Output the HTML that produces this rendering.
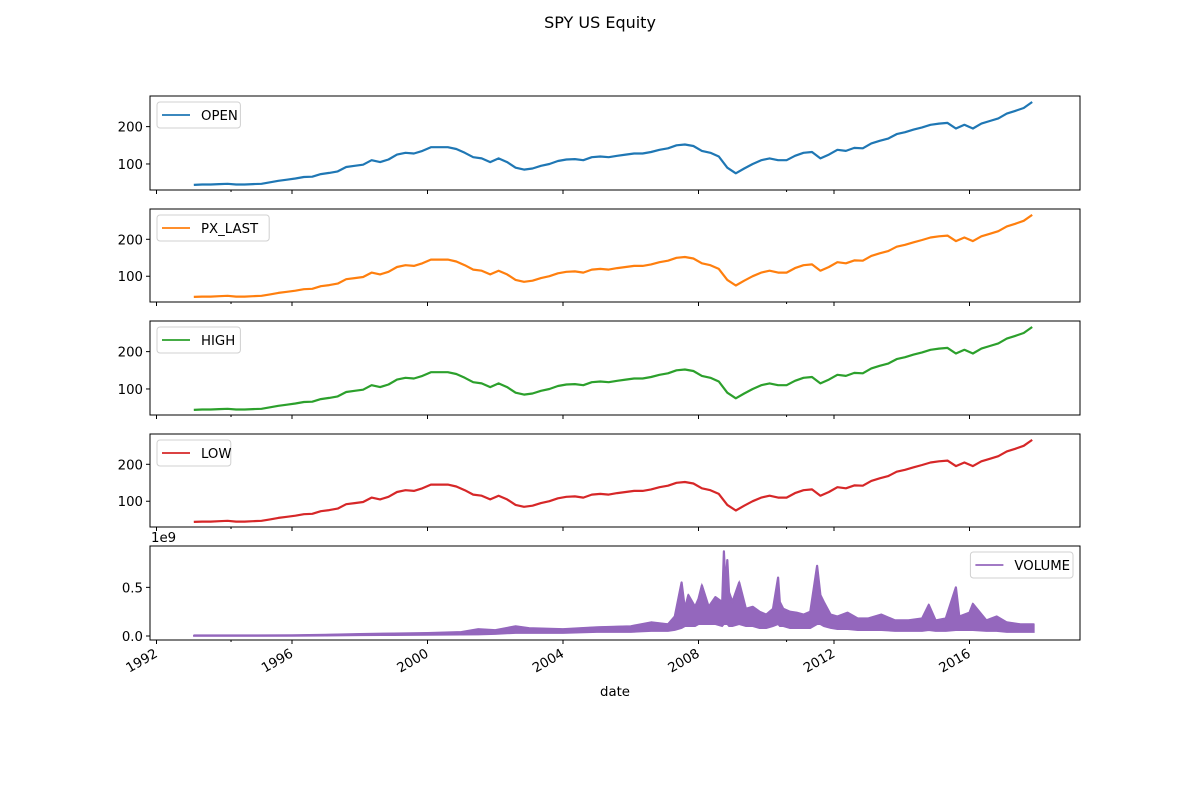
<!DOCTYPE html>
<html><head><meta charset="utf-8"><style>
body{margin:0;background:#fff;}
svg{font-family:"DejaVu Sans","Liberation Sans",sans-serif;}
</style></head><body>
<svg id="chart" width="1200" height="800" viewBox="0 0 1200 800" xmlns="http://www.w3.org/2000/svg">
<rect width="1200" height="800" fill="#fff"/>
<text x="600" y="28" text-anchor="middle" font-size="16">SPY US Equity</text>
<text x="615" y="696" text-anchor="middle" font-size="13.3">date</text>
</svg>
<script>
const priceDates = [];
for (let y = 1993; y <= 2017; y++) for (let q = 0; q < 4; q++) priceDates.push(y + 0.1 + q * 0.25);
const priceValues = [
44,45,45,46, 47,45,45,46, 47,51,55,58, 61,65,66,73, 76,80,92,95,
98,110,105,112, 125,130,128,135, 145,145,145,140, 130,118,115,105,
115,105,90,85, 88,95,100,108, 112,113,110,118, 120,118,122,125,
128,128,132,138, 142,150,152,148, 135,130,120,90, 75,88,100,110,
115,110,110,122, 130,132,115,125, 138,135,143,142, 155,162,168,180,
185,192,198,205, 208,210,195,205, 195,208,215,222, 235,242,250,266];
const seriesNames = ["OPEN","PX_LAST","HIGH","LOW"];
const seriesColors = ["#1f77b4","#ff7f0e","#2ca02c","#d62728"];
const volumeDates = [1993.1,1994,1995,1996,1997,1998,1999,2000,2001,2001.5,2002,2002.6,2003,2004,2005,2006,2006.6,2007.1,2007.3,2007.5,2007.6,2007.7,2007.9,2008.0,2008.1,2008.3,2008.5,2008.7,2008.75,2008.8,2008.85,2008.9,2009.0,2009.2,2009.4,2009.6,2009.8,2010.0,2010.2,2010.35,2010.4,2010.5,2010.7,2010.9,2011.1,2011.3,2011.5,2011.6,2011.7,2011.9,2012.1,2012.4,2012.7,2013,2013.4,2013.8,2014.2,2014.6,2014.8,2015,2015.3,2015.6,2015.7,2016,2016.1,2016.5,2016.8,2017.1,2017.5,2017.9];
const volumeValues = [0.005,0.005,0.005,0.006,0.012,0.02,0.025,0.03,0.04,0.07,0.06,0.1,0.08,0.07,0.09,0.1,0.14,0.12,0.2,0.55,0.28,0.42,0.3,0.38,0.52,0.3,0.4,0.35,0.87,0.5,0.78,0.45,0.35,0.55,0.28,0.3,0.25,0.22,0.28,0.6,0.35,0.28,0.25,0.24,0.22,0.25,0.72,0.42,0.35,0.22,0.2,0.24,0.18,0.18,0.22,0.16,0.16,0.18,0.32,0.16,0.18,0.5,0.2,0.24,0.33,0.16,0.2,0.14,0.12,0.12];
const volumeFloor = [0.0,0.0,0.0,0.0,0.003,0.006,0.008,0.01,0.012,0.015,0.02,0.03,0.03,0.03,0.04,0.04,0.05,0.05,0.06,0.08,0.1,0.1,0.1,0.12,0.12,0.12,0.12,0.1,0.12,0.12,0.12,0.1,0.1,0.12,0.1,0.1,0.08,0.08,0.1,0.12,0.1,0.1,0.08,0.08,0.08,0.08,0.12,0.12,0.1,0.08,0.07,0.07,0.06,0.06,0.06,0.05,0.05,0.05,0.06,0.05,0.05,0.06,0.06,0.06,0.06,0.05,0.05,0.04,0.04,0.04];
const yearTicks = [1992,1996,2000,2004,2008,2012,2016];
const minorTicks = [1994.2,2010.6];
const priceTicks = [100,200];
const volTicks = [0,0.5];
const volTickLabels = ["0.0","0.5"];

const svg = document.getElementById('chart');
const NS = "http://www.w3.org/2000/svg";
const L = 150, R = 1080;
const panels = [[96,190],[209,302],[321,415],[434,527],[546,640]];
function xs(t){ return 156.5 + (t - 1992) * 33.875; }
function mk(tag, attrs){ const e = document.createElementNS(NS, tag); for (const k in attrs) e.setAttribute(k, attrs[k]); svg.appendChild(e); return e; }
function panelY(top, bot, lo, hi){ return v => bot - (v - lo) / (hi - lo) * (bot - top); }

panels.forEach((p, i) => {
  const [top, bot] = p;
  const isVol = i === 4;
  const ys = isVol ? panelY(top, bot, -0.041, 0.925) : panelY(top, bot, 30.3, 282);
  const dates = isVol ? volumeDates : priceDates;
  const vals = isVol ? volumeValues : priceValues;
  if (isVol) {
    let a = "";
    dates.forEach((t, k) => { a += (k ? "L" : "M") + xs(t).toFixed(1) + "," + ys(vals[k]).toFixed(1); });
    for (let k = dates.length - 1; k >= 0; k--) a += "L" + xs(dates[k]).toFixed(1) + "," + ys(volumeFloor[k]).toFixed(1);
    const band = mk('path', {d: a + "Z", fill: "#9467bd", stroke: "#9467bd", "stroke-width": 1.5});
    
    
  }
  let d = "";
  dates.forEach((t, k) => { d += (k ? "L" : "M") + xs(t).toFixed(1) + "," + ys(vals[k]).toFixed(1); });
  const line = mk('path', {d: d, fill: "none", stroke: isVol ? "#9467bd" : seriesColors[i], "stroke-width": 2.2, "stroke-linejoin": "round"});
  
  
  const frame = mk('rect', {x: L, y: top, width: R - L, height: bot - top, fill: "none", stroke: "#000", "stroke-width": 1});
  
  
  const ticks = isVol ? volTicks : priceTicks;
  ticks.forEach((v, k) => {
    const y = ys(v);
    const tk = mk('line', {x1: L - 4, x2: L, y1: y, y2: y, stroke: "#000"});
    
    
    const tl = mk('text', {x: L - 7, y: y + 5, "text-anchor": "end", "font-size": 13.3});
    tl.textContent = isVol ? volTickLabels[k] : String(v);
    
    
  });
  yearTicks.forEach(t => {
    const x = xs(t);
    const tk = mk('line', {x1: x, x2: x, y1: bot, y2: bot + 4, stroke: "#000"});
    
    
  });
  minorTicks.forEach(t => {
    const x = xs(t);
    const tk = mk('line', {x1: x, x2: x, y1: bot, y2: bot + 2, stroke: "#000"});
    
    
  });
  const name = isVol ? "VOLUME" : seriesNames[i];
  const col = isVol ? "#9467bd" : seriesColors[i];
  const lw = name.length * 9.6 + 45;
  const lx = isVol ? R - 7 - lw : L + 7;
  const ly = top + 6;
  const g = document.createElementNS(NS, 'g');
  
  
  svg.appendChild(g);
  const box = document.createElementNS(NS, 'rect');
  [["x",lx],["y",ly],["width",lw],["height",26],["rx",3],["fill","#fff"],["fill-opacity","0.8"],["stroke","#d0d0d0"]].forEach(a=>box.setAttribute(a[0],a[1]));
  g.appendChild(box);
  const ll = document.createElementNS(NS, 'line');
  [["x1",lx+5],["x2",lx+33],["y1",ly+13],["y2",ly+13],["stroke",col],["stroke-width",1.8]].forEach(a=>ll.setAttribute(a[0],a[1]));
  g.appendChild(ll);
  const lt = document.createElementNS(NS, 'text');
  [["x",lx+44],["y",ly+18],["font-size",13.3]].forEach(a=>lt.setAttribute(a[0],a[1]));
  lt.textContent = name;
  g.appendChild(lt);
});
const off = mk('text', {x: 151, y: 542, "font-size": 13.3});
off.textContent = "1e9";


yearTicks.forEach(t => {
  const x = xs(t);
  const tl = mk('text', {x: x + 2, y: 656, "text-anchor": "end", "font-size": 13.3, transform: `rotate(-30 ${x + 2} 656)`});
  tl.textContent = String(t);
  
  
});
</script>
</body></html>
